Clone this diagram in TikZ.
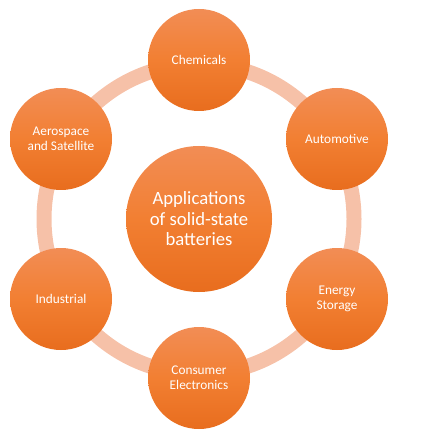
\documentclass[tikz,border=0pt]{standalone}
\usepackage{fontspec}
\setmainfont{Carlito}
\usepackage{tikz}
\usetikzlibrary{calc}
\definecolor{AppTop}{HTML}{F28D55}
\definecolor{AppMid}{HTML}{F27F32}
\definecolor{AppBot}{HTML}{E86D1E}
\definecolor{Ring}{HTML}{F6C1A8}

\tikzset{
  app/.style={circle,minimum size=102pt,inner sep=0pt,align=center,text=white,
    top color=AppTop,bottom color=AppBot,middle color=AppMid,
    font=\fontsize{13.3}{14.7}\selectfont},
  hubnode/.style={app,minimum size=146pt,font=\fontsize{18.7}{20.5}\selectfont},
  ringline/.style={draw=Ring,line width=15pt}
}

\begin{document}
\begin{tikzpicture}[x=1pt,y=-1pt]
  \useasboundingbox (0,0) rectangle (422,443);
  \coordinate (c) at (199,219);
  % ring behind the satellites
  \draw[ringline] (c) circle (155pt);
  \node[hubnode] (hub) at (c) {Applications\\of solid-state\\batteries};
  \node[app] (chem) at ($(c)+(0,-159)$) {Chemicals};
  \node[app] (auto) at ($(c)+(138,-80)$) {Automotive};
  \node[app] (energy) at ($(c)+(138,80)$) {Energy\\Storage};
  \node[app] (consumer) at ($(c)+(0,159)$) {Consumer\\Electronics};
  \node[app] (industrial) at ($(c)+(-138,80)$) {Industrial};
  \node[app] (aero) at ($(c)+(-138,-80)$) {Aerospace\\and Satellite};
\end{tikzpicture}
\end{document}
